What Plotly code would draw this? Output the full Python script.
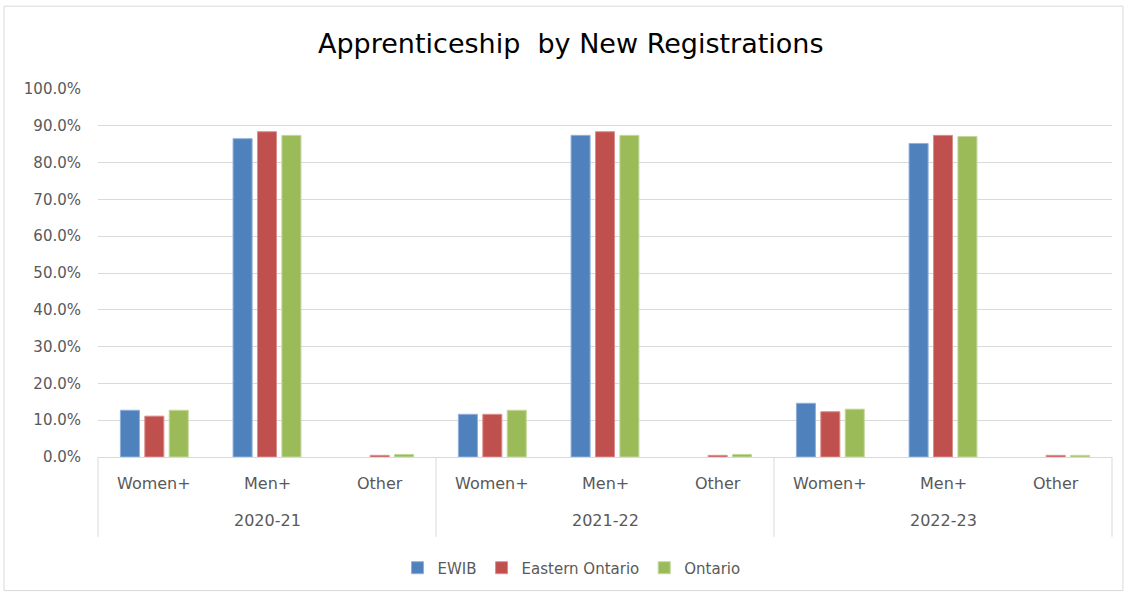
import plotly.graph_objects as go

# Fiscal years (outer level) and registration groups (inner level)
years = ["2020-21", "2021-22", "2022-23"]
groups = ["Women+", "Men+", "Other"]

# Share of new apprenticeship registrations, in order year x group
ewib = [0.127, 0.865, 0.0, 0.116, 0.874, 0.0, 0.146, 0.852, 0.0]
eastern_ontario = [0.111, 0.884, 0.0045, 0.116, 0.884, 0.0045, 0.123, 0.874, 0.0045]
ontario = [0.127, 0.874, 0.007, 0.127, 0.874, 0.007, 0.130, 0.871, 0.0045]

series_names = ["EWIB", "Eastern Ontario", "Ontario"]
series_values = [ewib, eastern_ontario, ontario]
series_colors = ["#4F81BD", "#C0504D", "#9BBB59"]
edge_colors = ["#8FB0DA", "#DA8E8C", "#C3D89C"]

x_outer = [y for y in years for _ in groups]
x_inner = [g for _ in years for g in groups]

font_family = "'DejaVu Sans', sans-serif"
tick_gray = "#595959"
grid_gray = "#D9D9D9"

fig = go.Figure()
for name, vals, col, edge in zip(series_names, series_values, series_colors, edge_colors):
    fig.add_trace(go.Bar(
        x=[x_outer, x_inner],
        y=vals,
        name=name,
        marker=dict(
            color=col,
            line=dict(color=edge, width=[1 if v > 0 else 0 for v in vals]),
        ),
    ))

fig.update_layout(
    width=1128,
    height=595,
    paper_bgcolor="white",
    plot_bgcolor="white",
    margin=dict(l=98, r=16, t=89, b=137),
    barmode="group",
    bargap=0.35,
    bargroupgap=0.22,
    title=dict(
        text="Apprenticeship  by New Registrations",
        x=0.506,
        xanchor="center",
        y=0.926,
        yanchor="middle",
        font=dict(family=font_family, size=27, color="#000000"),
    ),
    font=dict(family=font_family, color=tick_gray),
    legend=dict(
        orientation="h",
        x=0.467,
        xanchor="center",
        y=-0.298,
        yanchor="middle",
        font=dict(family=font_family, size=15, color=tick_gray),
        itemwidth=30,
        traceorder="normal",
    ),
    showlegend=True,
)

fig.update_yaxes(
    range=[0, 1],
    dtick=0.1,
    tickformat=".1%",
    showgrid=True,
    gridcolor=grid_gray,
    gridwidth=1,
    zeroline=False,
    showline=False,
    ticks="",
    ticklabelstandoff=16,
    tickfont=dict(family=font_family, size=15, color=tick_gray),
)

fig.update_xaxes(
    type="multicategory",
    showline=True,
    linecolor=grid_gray,
    linewidth=1,
    showticklabels=False,
    showdividers=False,
    ticks="",
)

# Two-level category labels under the axis
n_inner = len(years) * len(groups)
for i, label in enumerate(x_inner):
    fig.add_annotation(
        x=(i + 0.5) / n_inner, y=-0.073,
        xref="paper", yref="paper",
        text=label, showarrow=False,
        xanchor="center", yanchor="middle",
        font=dict(family=font_family, size=16, color=tick_gray),
    )
for j, label in enumerate(years):
    fig.add_annotation(
        x=(j + 0.5) / len(years), y=-0.173,
        xref="paper", yref="paper",
        text=label, showarrow=False,
        xanchor="center", yanchor="middle",
        font=dict(family=font_family, size=16, color=tick_gray),
    )

# Dividers between the year groups
for j in range(len(years) + 1):
    fig.add_shape(
        type="line",
        xref="paper", yref="paper",
        x0=j / len(years), x1=j / len(years), y0=0, y1=-0.217,
        line=dict(color=grid_gray, width=1),
    )

# Outer chart frame
fig.add_shape(
    type="rect",
    xref="paper", yref="paper",
    x0=-0.0927, x1=1.0108, y0=-0.363, y1=1.225,
    line=dict(color=grid_gray, width=1),
    fillcolor="rgba(0,0,0,0)",
    layer="below",
)

fig.write_html("out.html")
